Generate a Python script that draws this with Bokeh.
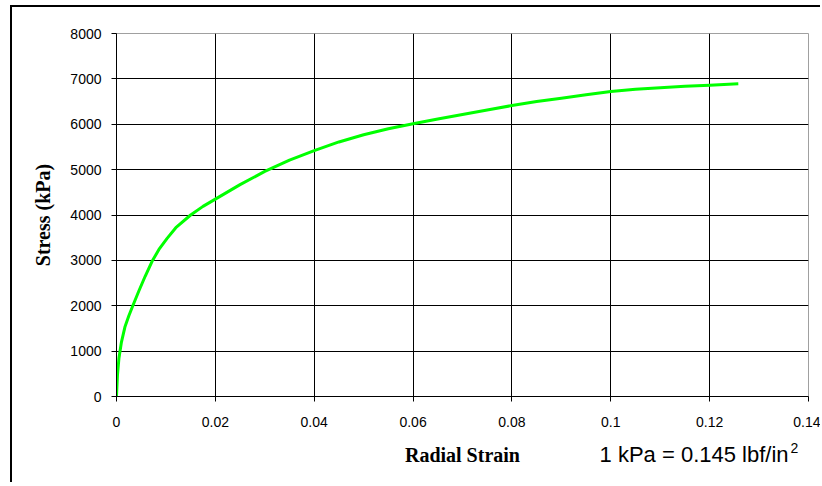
from bokeh.plotting import figure
from bokeh.layouts import column
from bokeh.models import FixedTicker, Range1d, NumeralTickFormatter
from bokeh.core.properties import value
from bokeh.embed import file_html
from bokeh.resources import INLINE

# Data
strain = [0.0, 0.0002, 0.0005, 0.0010, 0.0017, 0.0025, 0.0033, 0.0045, 0.0058,
          0.0072, 0.0087, 0.0102, 0.0120, 0.0150, 0.0175, 0.0200, 0.0250,
          0.0300, 0.0350, 0.0400, 0.0450, 0.0500, 0.0550, 0.0600, 0.0650,
          0.0700, 0.0750, 0.0800, 0.0850, 0.0900, 0.0950, 0.1000, 0.1050,
          0.1100, 0.1150, 0.1200, 0.1258]
stress = [0, 480, 850, 1200, 1530, 1780, 2000, 2320, 2650,
          2980, 3260, 3480, 3720, 4000, 4190, 4350, 4670,
          4960, 5210, 5420, 5610, 5770, 5900, 6010, 6115,
          6215, 6315, 6413, 6500, 6575, 6650, 6722, 6770,
          6805, 6835, 6860, 6890]

x_ticks = [0, 0.02, 0.04, 0.06, 0.08, 0.1, 0.12, 0.14]
x_tick_labels = ["0", "0.02", "0.04", "0.06", "0.08", "0.1", "0.12", "0.14"]
y_ticks = [0, 1000, 2000, 3000, 4000, 5000, 6000, 7000, 8000]
y_tick_labels = ["0", "1000", "2000", "3000", "4000", "5000", "6000", "7000", "8000"]

x_title = "Radial Strain"
y_title = "Stress (kPa)"
note_text = "1 kPa = 0.145 lbf/in"
note_sup = "2"

W = 808

# ---- main chart ----
p = figure(width=W, height=430, output_backend="svg", toolbar_location=None,
           x_range=Range1d(0, 0.14), y_range=Range1d(0, 8000),
           min_border_left=104, min_border_top=26, min_border_right=12,
           min_border_bottom=41)
p.background_fill_color = "white"
p.border_fill_color = "white"
p.outline_line_color = "#a0a0a0"
p.outline_line_width = 1

p.xgrid.ticker = FixedTicker(ticks=x_ticks[1:-1])
p.ygrid.ticker = FixedTicker(ticks=y_ticks[1:-1])
for g in (p.xgrid, p.ygrid):
    g.grid_line_color = "black"
    g.grid_line_width = 1
    g.grid_line_alpha = 1.0

p.xaxis.ticker = FixedTicker(ticks=x_ticks)
p.yaxis.ticker = FixedTicker(ticks=y_ticks)
p.xaxis.formatter = NumeralTickFormatter(format="0.[00]")
p.yaxis.formatter = NumeralTickFormatter(format="0")
p.xaxis.major_label_overrides = dict(zip(x_ticks, x_tick_labels))
p.yaxis.major_label_overrides = dict(zip(y_ticks, y_tick_labels))
for ax in (p.xaxis, p.yaxis):
    ax.axis_line_color = "black"
    ax.axis_line_width = 1
    ax.major_tick_line_color = "black"
    ax.major_tick_out = 5
    ax.major_tick_in = 0
    ax.minor_tick_line_color = None
    ax.major_label_text_font = "Liberation Sans"
    ax.major_label_text_font_size = "14px"
    ax.major_label_text_color = "black"
    ax.axis_label_text_font = "Liberation Serif"
    ax.axis_label_text_font_style = "bold"
    ax.axis_label_text_font_size = "20px"
    ax.axis_label_text_color = "black"
p.xaxis.major_label_standoff = 15
p.yaxis.major_label_standoff = 10
p.yaxis.axis_label = y_title
p.yaxis.axis_label_standoff = 13

p.line(strain, stress, line_color="#00FF00", line_width=3)

# ---- caption strip below the chart (x title + unit note) ----
# its frame is aligned with the chart frame, so x is given in page pixels
H2 = 45
q = figure(width=W, height=H2, output_backend="svg", toolbar_location=None,
           x_range=Range1d(115.7, 808), y_range=Range1d(0, H2),
           min_border=0, x_axis_location=None, y_axis_location=None)
q.outline_line_color = None
q.grid.visible = False
q.background_fill_color = "white"
q.border_fill_color = "white"

q.text(x=[461.8], y=[28], text=[x_title], text_font=value("Liberation Serif"),
       text_font_style="bold", text_font_size="20px", text_align="center",
       text_baseline="alphabetic", text_color="black")
q.text(x=[599], y=[28], text=[note_text], text_font=value("Liberation Sans"),
       text_font_size="22px", text_align="left",
       text_baseline="alphabetic", text_color="black")
q.text(x=[790], y=[35], text=[note_sup], text_font=value("Liberation Sans"),
       text_font_size="14px", text_align="left",
       text_baseline="alphabetic", text_color="black")

layout = column(p, q, spacing=0)
layout.margin = (5, 0, 0, 10)
layout.styles = {"border-left": "2px solid #000", "border-top": "2px solid #000"}

open("out.html", "w").write(file_html(layout, INLINE))
